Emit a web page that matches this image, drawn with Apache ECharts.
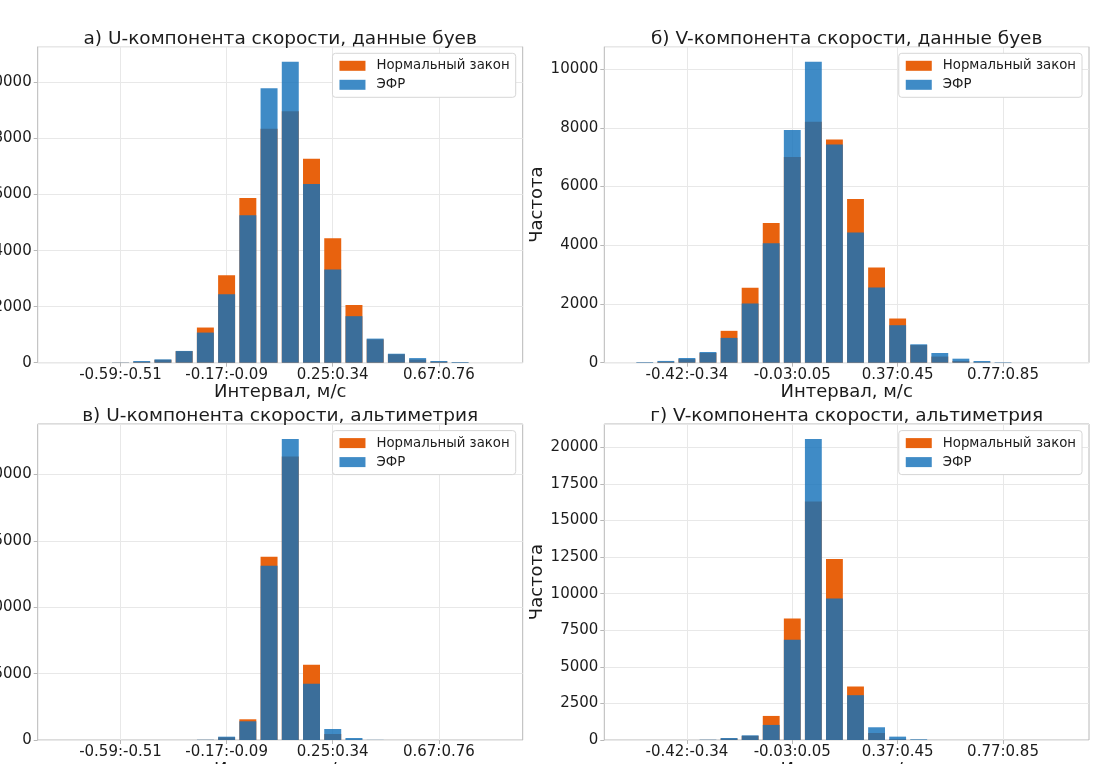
<!DOCTYPE html>
<html><head><meta charset="utf-8">
<script src="https://cdn.jsdelivr.net/npm/echarts@6/dist/echarts.min.js"></script>
<style>html,body{margin:0;padding:0;background:#fff}#c{width:1094px;height:764px}</style>
</head><body><div id="c"></div>
<script>
// ---- categories (interval bins) ----
const uBins = ["-0.59:-0.51","-0.51:-0.42","-0.42:-0.34","-0.34:-0.25","-0.25:-0.17","-0.17:-0.09","-0.09:0.00","0.00:0.08","0.08:0.17","0.17:0.25","0.25:0.34","0.34:0.42","0.42:0.50","0.50:0.59","0.59:0.67","0.67:0.76","0.76:0.84"];
const vBins = ["-0.58:-0.50","-0.50:-0.42","-0.42:-0.34","-0.34:-0.26","-0.26:-0.18","-0.18:-0.11","-0.11:-0.03","-0.03:0.05","0.05:0.13","0.13:0.21","0.21:0.29","0.29:0.37","0.37:0.45","0.45:0.53","0.53:0.61","0.61:0.69","0.69:0.77","0.77:0.85"];
// bins that carry a tick label
const uTickBins = [0,5,10,15];
const vTickBins = [2,7,12,17];

// ---- series values ----
const buoyU_normal = [5,30,100,410,1255,3120,5880,8350,8970,7280,4445,2055,830,300,110,35,8];
const buoyU_efr    = [10,60,120,420,1075,2440,5260,9790,10740,6380,3330,1660,860,320,165,60,25];
const buoyV_normal = [5,30,120,330,1085,2555,4755,7010,8210,7605,5575,3240,1505,600,210,60,15,3];
const buoyV_efr    = [20,60,160,365,845,2020,4070,7925,10250,7435,4435,2565,1277,627,330,137,57,15];
const altU_normal  = [0,0,0,0,5,200,1560,13800,21360,5670,450,20,0,0,0,0,0];
const altU_efr     = [0,0,0,0,20,250,1410,13120,22670,4230,830,150,10,0,0,0,0];
const altV_normal  = [0,0,0,5,100,280,1645,8295,16295,12363,3656,480,60,5,0,0,0,0];
const altV_efr     = [0,0,0,20,137,320,1030,6855,20567,9666,3062,870,230,45,0,0,0,0];

// ---- texts ----
const titles = ["а) U-компонента скорости, данные буев","б) V-компонента скорости, данные буев","в) U-компонента скорости, альтиметрия","г) V-компонента скорости, альтиметрия"];
const seriesNames = ["Нормальный закон","ЭФР"];
const xName = "Интервал, м/с";
const yName = "Частота";
const yIntervals = [2000,2000,5000,2500];

const panels = [
  {bins:uBins, ticks:uTickBins, normal:buoyU_normal, efr:buoyU_efr, padL:3.9, padR:3.95},
  {bins:vBins, ticks:vTickBins, normal:buoyV_normal, efr:buoyV_efr, padL:3.92, padR:4.08},
  {bins:uBins, ticks:uTickBins, normal:altU_normal, efr:altU_efr, padL:3.9, padR:3.95},
  {bins:vBins, ticks:vTickBins, normal:altV_normal, efr:altV_efr, padL:3.92, padR:4.08}
];
const boxes = [
  {left:37.7, top:46.7, width:485, height:316},
  {left:604.3, top:46.7, width:484.7, height:316},
  {left:37.7, top:424, width:485, height:316},
  {left:604.3, top:424, width:484.7, height:316}
];

const FONT = "DejaVu Sans";
const TXT = "#1c1c1c";
const ORANGE = "#e8620e";
const BLUE = "rgba(21,113,185,0.82)";
const GRIDC = "#e8e8e8";
const FRAME = "#b8b8b8";

const option = {animation:false, backgroundColor:"#fff", grid:[], xAxis:[], yAxis:[], series:[], title:[], legend:[]};

panels.forEach((p, i) => {
  const b = boxes[i];
  const yMax = Math.max(...p.normal, ...p.efr) * 1.05;
  option.grid.push({left:b.left, top:b.top, width:b.width, height:b.height, containLabel:false, outerBoundsMode:"none",
    show:true, borderColor:FRAME, borderWidth:1, backgroundColor:"#fff"});
  option.xAxis.push({
    type:"value", gridIndex:i,
    min:p.ticks[0]-p.padL, max:p.ticks[p.ticks.length-1]+p.padR,
    axisLine:{show:false, onZero:false},
    axisTick:{show:true, length:4, lineStyle:{color:FRAME}, customValues:p.ticks},
    axisLabel:{customValues:p.ticks, formatter:(v)=>p.bins[Math.round(v)], fontFamily:FONT, fontSize:15, color:TXT, margin:5},
    splitLine:{show:true, lineStyle:{color:GRIDC, width:1}},
    name:xName, nameLocation:"middle", nameGap:19,
    nameTextStyle:{fontFamily:FONT, fontSize:18, color:TXT, verticalAlign:"top"}
  });
  option.yAxis.push({
    type:"value", gridIndex:i, min:0, max:yMax, interval:yIntervals[i],
    axisLine:{show:false, onZero:false},
    axisTick:{show:true, length:4, lineStyle:{color:FRAME}},
    axisLabel:{showMaxLabel:false, formatter:(v)=>String(v), fontFamily:FONT, fontSize:15, color:TXT, margin:6},
    splitLine:{show:true, lineStyle:{color:GRIDC, width:1}},
    name:yName, nameLocation:"middle", nameGap:53, nameRotate:90,
    nameTextStyle:{fontFamily:FONT, fontSize:18, color:TXT}
  });
  option.series.push({
    type:"bar", name:seriesNames[0], xAxisIndex:i, yAxisIndex:i,
    data:p.normal.map((v,k)=>[k,v]), barWidth:"80%", barGap:"-100%",
    itemStyle:{color:ORANGE}, z:2
  });
  option.series.push({
    type:"bar", name:seriesNames[1], xAxisIndex:i, yAxisIndex:i,
    data:p.efr.map((v,k)=>[k,v]), barWidth:"80%", barGap:"-100%",
    itemStyle:{color:BLUE}, z:3
  });
  option.title.push({
    text:titles[i], left:b.left + b.width/2, top:b.top - 16.5, textAlign:"center", padding:0,
    textStyle:{fontFamily:FONT, fontSize:18.5, fontWeight:"normal", color:TXT, lineHeight:18}
  });
  option.legend.push({
    data:seriesNames, orient:"vertical",
    right:1094 - (b.left + b.width) + 7, top:b.top + 6.6,
    backgroundColor:"#fff", borderColor:"#d6d6d6", borderWidth:1, borderRadius:3,
    padding:[6,6,6,7], itemWidth:26, itemHeight:10, itemGap:6,
    icon:"rect", selectedMode:false,
    textStyle:{fontFamily:FONT, fontSize:13.3, color:TXT, padding:[0,0,0,6]}
  });
});

const chart = echarts.init(document.getElementById("c"), null, {renderer:"canvas"});
chart.setOption(option);
</script>
</body></html>
